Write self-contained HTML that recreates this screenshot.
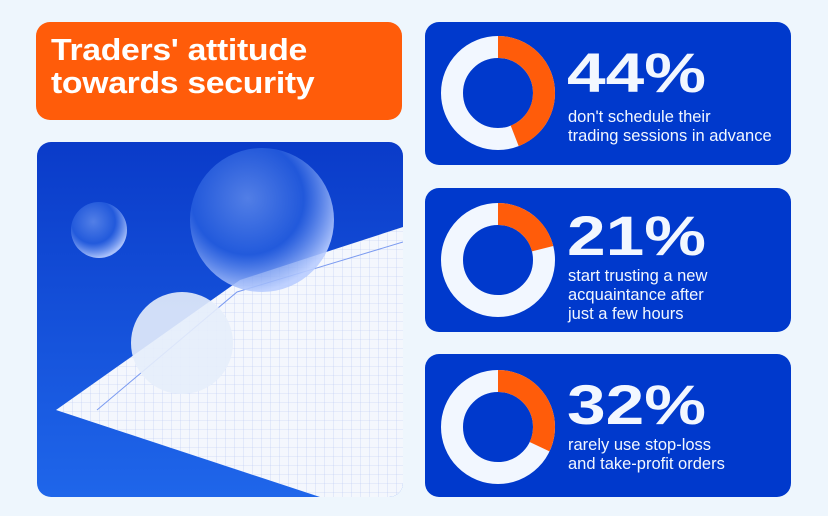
<!DOCTYPE html>
<html><head><style>
body{margin:0;width:828px;height:516px;background:#eef6fd;position:relative;overflow:hidden;font-family:"Liberation Sans",sans-serif}
.card{position:absolute;border-radius:14px}
.o{left:36px;top:22px;width:366px;height:98px;background:#ff5c0a;color:#fff;font-weight:bold;font-size:31px;line-height:33px;box-sizing:border-box;padding:11px 15px;letter-spacing:-0.3px}
.o span{display:inline-block;transform:scaleX(1.09);transform-origin:left top}
.img{left:37px;top:142px;width:366px;height:355px;overflow:hidden;background:linear-gradient(180deg,#0a3bc9,#1f66ea)}
.b{left:425px;width:366px;background:#0039cc;color:#f2f7ff}
.big{position:absolute;left:142px;font-weight:bold;font-size:56px;letter-spacing:0px;transform:scaleX(1.24);transform-origin:left top}
.sub{position:absolute;left:143px;font-size:16.5px;line-height:19px}
svg.d{position:absolute;left:15px}
</style></head><body>
<div class="card o"><span>Traders' attitude<br>towards security</span></div>
<div class="card img">
<svg width="366" height="355">
<defs><pattern id="g" width="9" height="9" patternUnits="userSpaceOnUse"><path d="M9 0V9H0" fill="none" stroke="#b8c8f4" stroke-width="0.6"/></pattern>
<radialGradient id="s" cx="40%" cy="35%" r="65%"><stop offset="0" stop-color="#6f98f0" stop-opacity=".7"/><stop offset=".6" stop-color="#2a62e0" stop-opacity=".7"/><stop offset="1" stop-color="#b9cdff" stop-opacity=".9"/></radialGradient></defs>
<polygon points="19,268 203,138 366,85 366,355 283,355" fill="#f4f7fd"/>
<polygon points="19,268 203,138 366,85 366,355 283,355" fill="url(#g)"/>
<polyline points="60,268 200,150 366,100" fill="none" stroke="#7a9af0" stroke-width="1"/>
<circle cx="225" cy="78" r="72" fill="url(#s)"/>
<circle cx="62" cy="88" r="28" fill="url(#s)"/>
<circle cx="145" cy="201" r="51" fill="#e6edfb" opacity=".9"/>
</svg></div>

<div class="card b" style="top:22px;height:143px">
<svg class="d" width="116" height="116" viewBox="-58 -58 116 116" style="top:13px"><circle r="46" fill="none" stroke="#f2f7ff" stroke-width="22"/><circle r="46" fill="none" stroke="#ff5c0a" stroke-width="22" stroke-dasharray="127.2 300" transform="rotate(-90)"/></svg>
<div class="big" style="top:18px">44%</div>
<div class="sub" style="top:86px">don't schedule their<br>trading sessions in advance</div></div>

<div class="card b" style="top:188px;height:144px">
<svg class="d" width="116" height="116" viewBox="-58 -58 116 116" style="top:14px"><circle r="46" fill="none" stroke="#f2f7ff" stroke-width="22"/><circle r="46" fill="none" stroke="#ff5c0a" stroke-width="22" stroke-dasharray="60.7 300" transform="rotate(-90)"/></svg>
<div class="big" style="top:15px">21%</div>
<div class="sub" style="top:79px">start trusting a new<br>acquaintance after<br>just a few hours</div></div>

<div class="card b" style="top:354px;height:143px">
<svg class="d" width="116" height="116" viewBox="-58 -58 116 116" style="top:15px"><circle r="46" fill="none" stroke="#f2f7ff" stroke-width="22"/><circle r="46" fill="none" stroke="#ff5c0a" stroke-width="22" stroke-dasharray="92.5 300" transform="rotate(-90)"/></svg>
<div class="big" style="top:18px">32%</div>
<div class="sub" style="top:82px">rarely use stop-loss<br>and take-profit orders</div></div>
</body></html>
